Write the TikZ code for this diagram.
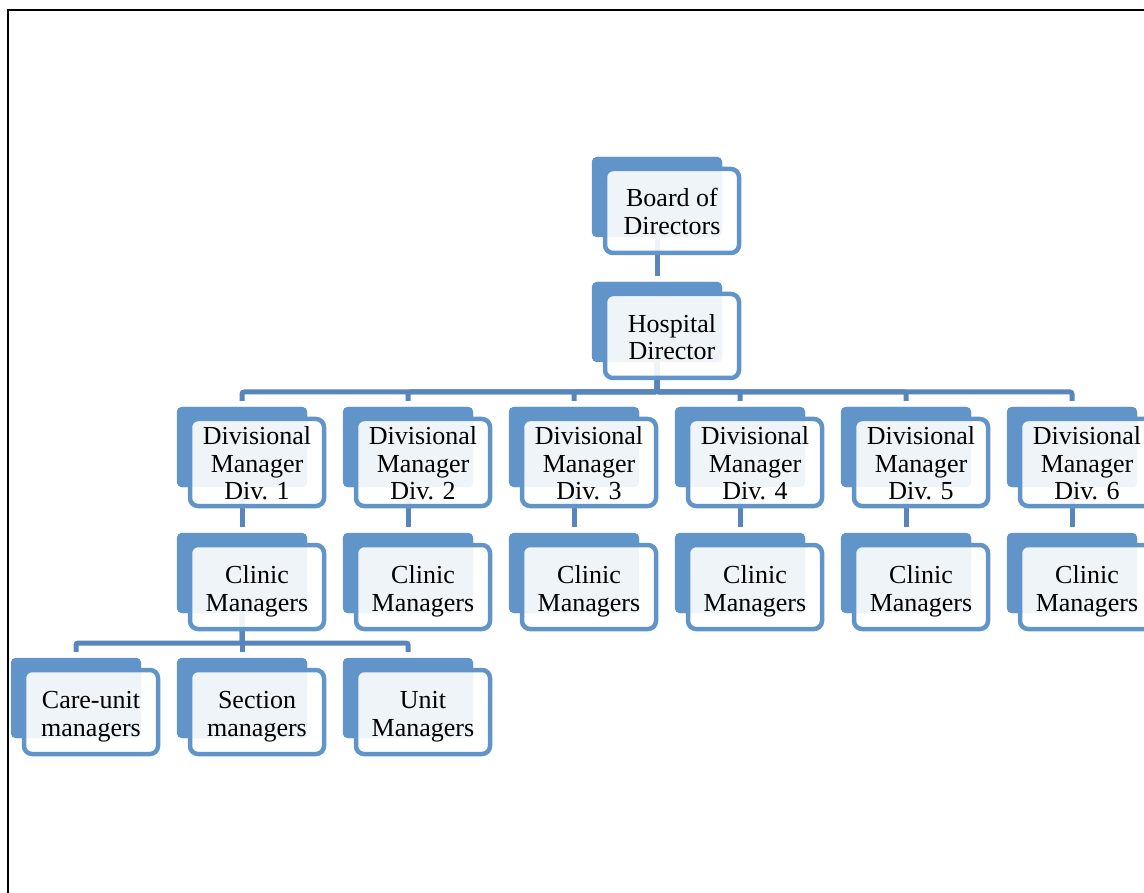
\documentclass[tikz,border=0pt]{standalone}
\usepackage{fontspec}
\setmainfont{Liberation Serif}
\usetikzlibrary{positioning, calc}

\definecolor{boxblue}{HTML}{6195C9}
\definecolor{linkblue}{HTML}{5886BC}

\begin{document}
\begin{tikzpicture}[
        x=1pt, y=-1pt,
        % back tab, front card and text of every unit
        back_box/.style={fill=boxblue, rounded corners=5pt, minimum width=130pt, minimum height=80pt, inner sep=0pt},
        front_box/.style={draw=boxblue, line width=4.5pt, fill=white, fill opacity=0.9, rounded corners=8pt,
            minimum width=134pt, minimum height=84pt, inner sep=0pt},
        card_text/.style={align=center, inner sep=0pt, font=\fontsize{26}{27.5}\selectfont},
        link/.style={draw=linkblue, line width=5pt, rounded corners=2pt}
    ]
    \useasboundingbox (0,0) rectangle (1144,893);
    \clip (0,0) rectangle (1144,893);

    % page frame
    \draw [line width=1.8pt] (8,900) -- (8,10) -- (1150,10);

    % back tabs
    \node (bod_back) [back_box] at (657,197) {};
    \node (hd_back) [back_box] at (657,322) {};
    \foreach \i in {1,...,6} {
        \node (dm\i_back) [back_box] at ({242+166*(\i-1)},447) {};
        \node (cm\i_back) [back_box] at ({242+166*(\i-1)},573) {};
    }
    \node (cu_back) [back_box] at (76,698) {};
    \node (sm_back) [back_box] at (242,698) {};
    \node (um_back) [back_box] at (408,698) {};

    % connectors
    \coordinate (bar_div) at (657,392);
    \coordinate (bar_unit) at (242,643);
    \draw [link] (bod_back.center) -- ([yshift=6pt]hd_back.north);
    \foreach \i in {1,...,6} {
        \draw [link] (hd_back.center) -- (bar_div) -| ([yshift=6pt]dm\i_back.north);
        \draw [link] (dm\i_back.center) -- ([yshift=6pt]cm\i_back.north);
    }
    \foreach \u in {cu, sm, um}
        \draw [link] (cm1_back.center) -- (bar_unit) -| ([yshift=6pt]\u_back.north);

    % redraw tabs over the connectors
    \foreach \b in {bod, hd, dm1, dm2, dm3, dm4, dm5, dm6, cm1, cm2, cm3, cm4, cm5, cm6, cu, sm, um}
        \fill [boxblue, rounded corners=5pt] (\b_back.south west) rectangle (\b_back.north east);

    % front cards
    \foreach \b in {bod, hd, cm1, cm2, cm3, cm4, cm5, cm6, cu, sm, um}
        \node (\b_box) [front_box] at ($(\b_back)+(15,14)$) {};
    \foreach \i in {1,...,6}
        \node (dm\i_box) [front_box, minimum height=87pt] at ($(dm\i_back)+(15,15.5)$) {};

    % card texts
    \node (bod_txt) [card_text] at ($(bod_box)+(0,0.5)$) {Board of\\Directors};
    \node (hd_txt) [card_text] at ($(hd_box)+(0,1)$) {Hospital\\Director};
    \foreach \i in {1,...,6} {
        \node (dm\i_txt) [card_text] at ($(dm\i_box)+(0,1)$) {Divisional\\Manager\\Div. \i};
        \node (cm\i_txt) [card_text] at ($(cm\i_box)+(0,4.5)$) {Clinic\\Managers};
    }
    \node (cu_txt) [card_text] at ($(cu_box)+(0,4.5)$) {Care-unit\\managers};
    \node (sm_txt) [card_text] at ($(sm_box)+(0,4.5)$) {Section\\managers};
    \node (um_txt) [card_text] at ($(um_box)+(0,4.5)$) {Unit\\Managers};

\end{tikzpicture}
\end{document}
